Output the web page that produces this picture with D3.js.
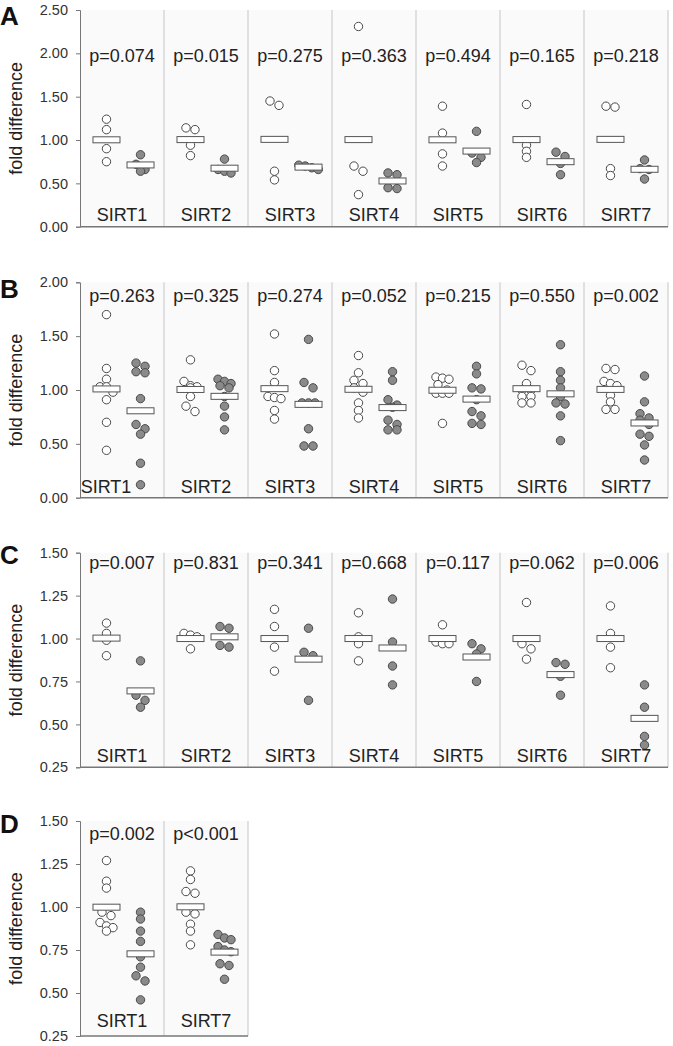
<!DOCTYPE html>
<html>
<head>
<meta charset="utf-8">
<script src="https://cdn.jsdelivr.net/npm/d3@7"></script>
<style>
  html, body { margin: 0; padding: 0; background: #fff; }
  svg { display: block; font-family: "Liberation Sans", Arial, sans-serif; }
</style>
</head>
<body>
<svg id="chart" width="673" height="1046"></svg>
<script>
// ---------------- DATA ----------------
const genes = ["SIRT1", "SIRT2", "SIRT3", "SIRT4", "SIRT5", "SIRT6", "SIRT7"];
const genesD = ["SIRT1", "SIRT7"];

const pA = ["p=0.074", "p=0.015", "p=0.275", "p=0.363", "p=0.494", "p=0.165", "p=0.218"];
const ctrlA = [
  [1.24, 1.12, 0.90, 0.75],
  [1.14, 1.12, 0.94, 0.82],
  [1.45, 1.40, 0.64, 0.54],
  [2.31, 0.70, 0.64, 0.37],
  [1.39, 1.08, 0.84, 0.70],
  [1.41, 0.94, 0.87, 0.80],
  [1.39, 1.38, 0.67, 0.59]
];
const treatA = [
  [0.83, 0.72, 0.66, 0.64],
  [0.78, 0.66, 0.64, 0.62],
  [0.71, 0.70, 0.68, 0.66],
  [0.62, 0.60, 0.45, 0.44],
  [1.10, 0.85, 0.80, 0.74],
  [0.86, 0.81, 0.73, 0.60],
  [0.77, 0.67, 0.66, 0.55]
];

const pB = ["p=0.263", "p=0.325", "p=0.274", "p=0.052", "p=0.215", "p=0.550", "p=0.002"];
const ctrlB = [
  [1.70, 1.20, 1.10, 1.03, 1.03, 0.98, 0.91, 0.70, 0.44],
  [1.28, 1.08, 1.04, 1.03, 1.02, 0.94, 0.85, 0.80],
  [1.52, 1.18, 1.07, 0.94, 0.93, 0.92, 0.81, 0.73],
  [1.32, 1.16, 1.09, 1.06, 1.02, 0.98, 0.88, 0.81, 0.74],
  [1.12, 1.11, 1.10, 1.05, 1.00, 0.97, 0.97, 0.97, 0.69],
  [1.23, 1.18, 1.06, 1.00, 1.00, 0.94, 0.94, 0.88, 0.88],
  [1.20, 1.19, 1.08, 1.06, 1.04, 0.95, 0.89, 0.82, 0.82]
];
const treatB = [
  [1.25, 1.22, 1.17, 1.16, 0.92, 0.68, 0.64, 0.59, 0.32, 0.12],
  [1.10, 1.08, 1.06, 1.04, 1.02, 0.94, 0.85, 0.75, 0.63],
  [1.47, 1.07, 1.02, 0.88, 0.88, 0.88, 0.64, 0.48, 0.48],
  [1.17, 1.09, 0.91, 0.86, 0.84, 0.72, 0.68, 0.63, 0.63],
  [1.22, 1.15, 1.02, 1.01, 0.91, 0.80, 0.76, 0.69, 0.68],
  [1.42, 1.17, 1.09, 1.02, 0.94, 0.88, 0.87, 0.76, 0.53],
  [1.13, 0.89, 0.78, 0.74, 0.72, 0.68, 0.59, 0.57, 0.49, 0.35]
];

const pC = ["p=0.007", "p=0.831", "p=0.341", "p=0.668", "p=0.117", "p=0.062", "p=0.006"];
const ctrlC = [
  [1.09, 1.03, 0.99, 0.90],
  [1.03, 1.02, 1.01, 0.94],
  [1.17, 1.07, 0.95, 0.81],
  [1.15, 1.01, 0.97, 0.87],
  [1.08, 0.98, 0.97, 0.97],
  [1.21, 0.97, 0.94, 0.88],
  [1.19, 1.03, 0.95, 0.83]
];
const treatC = [
  [0.87, 0.67, 0.64, 0.60],
  [1.07, 1.06, 0.96, 0.95],
  [1.06, 0.92, 0.90, 0.64],
  [1.23, 0.98, 0.84, 0.73],
  [0.97, 0.94, 0.91, 0.75],
  [0.86, 0.85, 0.78, 0.67],
  [0.73, 0.60, 0.43, 0.38]
];

const pD = ["p=0.002", "p<0.001"];
const ctrlD = [
  [1.27, 1.15, 1.11, 0.97, 0.95, 0.91, 0.89, 0.88, 0.86],
  [1.21, 1.16, 1.09, 1.08, 0.97, 0.96, 0.90, 0.86, 0.78]
];
const treatD = [
  [0.97, 0.93, 0.86, 0.80, 0.71, 0.65, 0.60, 0.57, 0.46],
  [0.84, 0.82, 0.81, 0.77, 0.75, 0.74, 0.67, 0.66, 0.58]
];

const ticksA = [0, 0.5, 1.0, 1.5, 2.0, 2.5];
const ticksB = [0, 0.5, 1.0, 1.5, 2.0];
const ticksCD = [0.25, 0.5, 0.75, 1.0, 1.25, 1.5];
const groups = ["control", "treated"];

// ---------------- LAYOUT ----------------
const panels = [
  { letter: "A", genes: genes, p: pA, ctrl: ctrlA, treat: treatA, domain: [0, 2.5], ticks: ticksA,
    top: 10, bottom: 226.7, letterY: 25, pY: 61.5, labelY: 220.5 },
  { letter: "B", genes: genes, p: pB, ctrl: ctrlB, treat: treatB, domain: [0, 2.0], ticks: ticksB,
    top: 282.3, bottom: 497.7, letterY: 298, pY: 301.5, labelY: 493 },
  { letter: "C", genes: genes, p: pC, ctrl: ctrlC, treat: treatC, domain: [0.25, 1.5], ticks: ticksCD,
    top: 552.7, bottom: 767.3, letterY: 564, pY: 569, labelY: 761.5 },
  { letter: "D", genes: genesD, p: pD, ctrl: ctrlD, treat: treatD, domain: [0.25, 1.5], ticks: ticksCD,
    top: 821, bottom: 1036, letterY: 833, pY: 839.5, labelY: 1027 }
];

const svg = d3.select("#chart");
const axisX = 80, colW = 84, R = 4.2;
const textCol = "#222";

function swarm(vals, y, cx) {
  const sorted = vals.slice().sort((a, b) => b - a);
  const rows = [];
  sorted.forEach(v => {
    const py = y(v);
    const last = rows[rows.length - 1];
    if (last && Math.abs(py - last.y0) < 5.5) last.pts.push(py);
    else rows.push({ y0: py, pts: [py] });
  });
  const out = [];
  rows.forEach(r => {
    const n = r.pts.length;
    const step = n === 2 ? 9 : 6.5;
    r.pts.forEach((py, i) => out.push({ x: cx + (i - (n - 1) / 2) * step, y: py }));
  });
  return out;
}

panels.forEach(P => {
  const g = svg.append("g");
  const y = d3.scaleLinear().domain(P.domain).range([P.bottom, P.top]);
  const x = d3.scaleBand().domain(P.genes).range([axisX, axisX + colW * P.genes.length]).padding(0);
  const sub = d3.scalePoint().domain(groups).range([3, x.bandwidth()]).padding(0.69);
  const right = x.range()[1];

  // background
  g.append("rect").attr("x", axisX).attr("y", P.top).attr("width", right - axisX)
    .attr("height", P.bottom - P.top).attr("fill", "#fafafa");
  // separators
  g.selectAll("line.sep").data(P.genes).join("line")
    .attr("x1", d => x(d) + x.bandwidth()).attr("x2", d => x(d) + x.bandwidth())
    .attr("y1", P.top).attr("y2", P.bottom).attr("stroke", "#cfcfcf").attr("stroke-width", 1.2);

  // y axis
  const ax = g.append("g").attr("transform", `translate(${axisX},0)`)
    .call(d3.axisLeft(y).tickValues(P.ticks).tickFormat(d3.format(".2f")).tickSize(4).tickPadding(8));
  ax.select(".domain").attr("stroke", "#777");
  ax.selectAll(".tick line").attr("stroke", "#777");
  ax.selectAll(".tick text").attr("fill", "#333").style("font-size", "14.5px")
    .style("font-family", "'Liberation Sans', Arial, sans-serif");

  // x axis baseline
  g.append("line").attr("x1", axisX).attr("x2", right).attr("y1", P.bottom).attr("y2", P.bottom)
    .attr("stroke", "#777").attr("stroke-width", 1.5);

  // y label
  g.append("text").attr("transform", `translate(22,${(P.top + P.bottom) / 2}) rotate(-90)`)
    .attr("text-anchor", "middle").attr("fill", textCol).style("font-size", "18px").text("fold difference");

  // panel letter
  g.append("text").attr("x", 0).attr("y", P.letterY).attr("fill", "#111")
    .style("font-size", "26px").style("font-weight", "bold").text(P.letter);

  P.genes.forEach((gene, i) => {
    const x0 = x(gene);
    const cC = x0 + sub("control"), cT = x0 + sub("treated");
    const ptsC = swarm(P.ctrl[i], y, cC);
    const ptsT = swarm(P.treat[i], y, cT);

    g.selectAll(null).data(ptsC).join("circle")
      .attr("cx", d => d.x).attr("cy", d => d.y).attr("r", R)
      .attr("fill", "#fff").attr("stroke", "#4a4a4a").attr("stroke-width", 1);
    g.selectAll(null).data(ptsT).join("circle")
      .attr("cx", d => d.x).attr("cy", d => d.y).attr("r", R)
      .attr("fill", "#8a8a8a").attr("stroke", "#4a4a4a").attr("stroke-width", 1);

    [[cC, d3.mean(P.ctrl[i])], [cT, d3.mean(P.treat[i])]].forEach(([cx, m]) => {
      g.append("rect").attr("x", cx - 13.5).attr("y", y(m) - 3).attr("width", 27).attr("height", 6)
        .attr("fill", "#fff").attr("stroke", "#555").attr("stroke-width", 1);
    });

    // p-value
    g.append("text").attr("x", x0 + x.bandwidth() / 2).attr("y", P.pY).attr("text-anchor", "middle")
      .attr("fill", textCol).style("font-size", "18px").text(P.p[i]);

    // gene label; shifted left if the lowest treated dot sits in the label zone
    const lowest = ptsT.reduce((a, b) => (b.y > a.y ? b : a));
    const lbl = g.append("text").attr("y", P.labelY).attr("fill", textCol).style("font-size", "18px").text(gene);
    if (lowest.y > P.labelY - 16) {
      lbl.attr("x", lowest.x - R - 5).attr("text-anchor", "end");
    } else {
      lbl.attr("x", x0 + x.bandwidth() / 2).attr("text-anchor", "middle");
    }
  });
});
</script>
</body>
</html>
